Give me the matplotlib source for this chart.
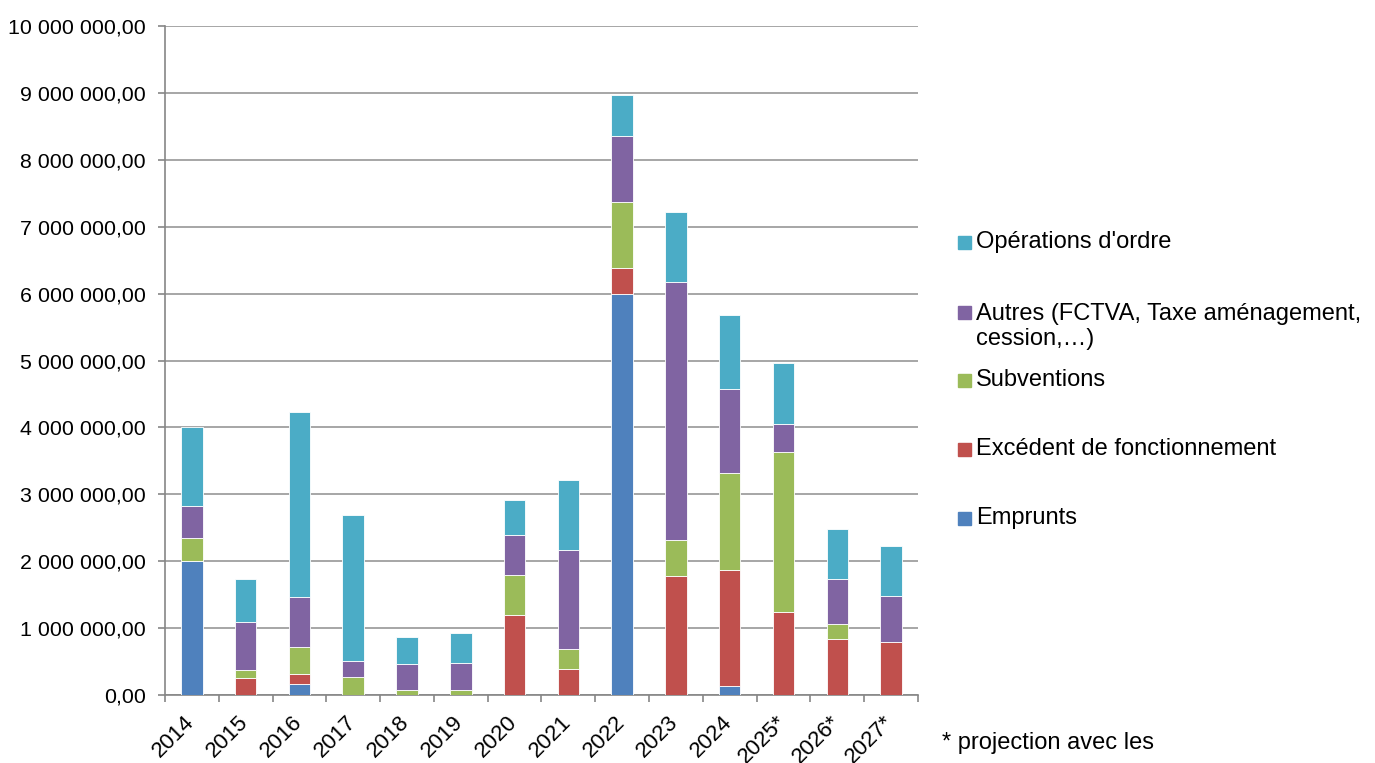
#! /usr/bin/env python3
# coding: utf-8

import numpy as np
import matplotlib

matplotlib.use("Agg")
import matplotlib.pyplot as plt
import matplotlib.transforms as mtransforms
from matplotlib.patches import Rectangle
from matplotlib.ticker import FuncFormatter, MultipleLocator

years = ["2014", "2015", "2016", "2017", "2018", "2019", "2020",
         "2021", "2022", "2023", "2024", "2025*", "2026*", "2027*"]

# recettes d'investissement par origine (euros)
emprunts = [2000000, 0, 165000, 0, 0, 0, 0,
            0, 6000000, 0, 135000, 0, 0, 0]
excedent = [0, 260000, 155000, 0, 0, 0, 1190000,
            390000, 390000, 1786000, 1730000, 1243000, 838000, 798000]
subventions = [350000, 110000, 405000, 265000, 80000, 80000, 605000,
               300000, 980000, 532000, 1460000, 2395000, 220000, 0]
autres = [470000, 725000, 740000, 240000, 385000, 400000, 590000,
          1485000, 990000, 3856000, 1255000, 419000, 675000, 684000]
operations_ordre = [1180000, 640000, 2770000, 2180000, 400000, 445000, 525000,
                    1040000, 610000, 1046000, 1100000, 913000, 752000, 748000]

series = [
    ("Emprunts", emprunts, "#4F81BD"),
    ("Excédent de fonctionnement", excedent, "#C0504D"),
    ("Subventions", subventions, "#9BBB59"),
    ("Autres (FCTVA, Taxe aménagement,\ncession,…)", autres, "#8064A2"),
    ("Opérations d'ordre", operations_ordre, "#4BACC6"),
]

plt.rcParams["font.family"] = ["Liberation Sans", "DejaVu Sans"]

fig = plt.figure(figsize=(13.75, 7.63), dpi=100)
ax = fig.add_axes([0.12, 0.0891, 0.5476, 0.8768])

x = np.arange(len(years))
bottom = np.zeros(len(years))
for label, values, color in series:
    values = np.array(values, dtype=float)
    ax.bar(x, values, width=0.4, bottom=bottom, color=color,
           edgecolor="#FFFFFF", linewidth=0.6, zorder=3)
    bottom += values

ax.set_ylim(0, 10000000)
ax.set_xlim(-0.5, len(years) - 0.5)
ax.yaxis.set_major_locator(MultipleLocator(1000000))
ax.yaxis.set_major_formatter(FuncFormatter(
    lambda v, _: f"{v:,.2f}".replace(",", " ").replace(".", ",")))
ax.grid(axis="y", color="#A6A6A6", linewidth=1.4, zorder=0)

ax.set_xticks(x)
ax.set_xticklabels(years, rotation=45, ha="right", rotation_mode="anchor")
ax.set_xticks(np.arange(len(years) + 1) - 0.5, minor=True)
ax.tick_params(axis="x", which="major", length=0, pad=14, labelsize=16)
ax.tick_params(axis="x", which="minor", length=5, color="#868686", width=1.2)
ax.tick_params(axis="y", length=5, color="#868686", width=1.2, pad=9,
               labelsize=15.4)

shift = mtransforms.ScaledTranslation(-0.08, 0.03, fig.dpi_scale_trans)
for lbl in ax.get_xticklabels():
    lbl.set_transform(lbl.get_transform() + shift)

for side in ("top", "right"):
    ax.spines[side].set_visible(False)
for side in ("left", "bottom"):
    ax.spines[side].set_color("#868686")
    ax.spines[side].set_linewidth(1.2)

# legend drawn by hand, top entry first
W, H = 1375.0, 763.0
legend_rows = [
    (series[4], 242, 242),
    (series[3], 312, 326.5),
    (series[2], 380, 380),
    (series[1], 449, 449),
    (series[0], 518, 518),
]
for (label, _, color), ybox, ytext in legend_rows:
    fig.patches.append(Rectangle((958 / W, 1 - (ybox + 6.5) / H), 13 / W,
                                 13 / H, transform=fig.transFigure,
                                 color=color))
    fig.text(976 / W, 1 - ytext / H, label, fontsize=17, va="center",
             linespacing=1.2)

fig.text(942 / W, 1 - 743 / H, "* projection avec les", fontsize=17,
         va="center")

fig.savefig("out.png", dpi=100)
